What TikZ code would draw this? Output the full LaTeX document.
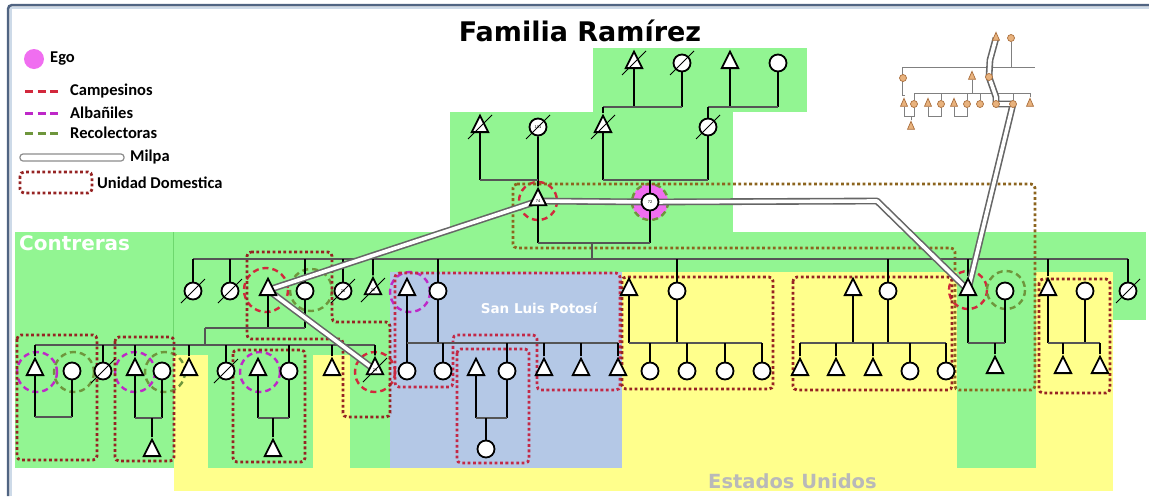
\documentclass[tikz,border=0pt]{standalone}
\usepackage{fontspec}
\setmainfont{Liberation Sans}
\newfontfamily\legfont{Carlito}
\newfontfamily\heavyfont{DejaVu Sans}
\usetikzlibrary{shapes.geometric}
\pgfdeclarelayer{bg}\pgfdeclarelayer{deco}\pgfdeclarelayer{lines}\pgfdeclarelayer{milpa}
\pgfsetlayers{bg,deco,lines,milpa,main}
\definecolor{gr}{RGB}{146,245,146}
\definecolor{ye}{RGB}{255,255,140}
\definecolor{bl}{RGB}{180,200,230}
\definecolor{udred}{RGB}{150,35,35}
\definecolor{udcrim}{RGB}{195,40,70}
\definecolor{udolive}{RGB}{140,100,30}
\definecolor{cred}{RGB}{210,40,60}
\definecolor{cpur}{RGB}{190,40,200}
\definecolor{cgrn}{RGB}{110,150,60}
\definecolor{egopink}{RGB}{240,110,240}
\definecolor{framec}{RGB}{80,100,130}
\definecolor{tanc}{RGB}{232,178,125}
\definecolor{tanline}{RGB}{170,110,60}
\definecolor{barc}{RGB}{85,85,85}
\definecolor{eugray}{RGB}{185,185,185}
\newcommand\deadmark[1]{\draw[line width=1pt] ([shift={(-12,12)}]#1.center) -- ([shift={(12,-12)}]#1.center);}
\begin{document}
\begin{tikzpicture}[x=1pt,y=-1pt,
  male/.style={isosceles triangle, isosceles triangle stretches, shape border rotate=90,
    minimum width=16.5pt, minimum height=16.5pt, inner sep=0pt, draw=black, line width=1.8pt,
    fill=white, font=\fontsize{4}{4}\selectfont},
  fem/.style={circle, minimum size=17pt, inner sep=0pt, draw=black, line width=1.8pt,
    fill=white, font=\fontsize{4}{4}\selectfont},
  smm/.style={isosceles triangle, isosceles triangle stretches, shape border rotate=90,
    minimum width=7pt, minimum height=8pt, inner sep=0pt, draw=tanline, line width=0.7pt, fill=tanc},
  smf/.style={circle, minimum size=7pt, inner sep=0pt, draw=tanline, line width=0.7pt, fill=tanc},
  kin/.style={line width=1.8pt, black},
  bar/.style={line width=1.4pt, barc},
  ibar/.style={line width=1pt, gray},
  milpa/.style={draw=black!60, line width=1.6pt, double=white, double distance=3.6pt, line join=round},
  udbox/.style={udred, line width=2.8pt, dash pattern=on 2.8pt off 2.6pt, rounded corners=4pt},
  cdash/.style={line width=2.4pt, dash pattern=on 6pt off 4pt},
  legtext/.style={anchor=west, font=\legfont\bfseries\fontsize{16.5}{16.5}\selectfont, inner sep=0pt}
]
\useasboundingbox (0,0) rectangle (1149,496);
% ---------------- background regions
\begin{pgfonlayer}{bg}
\fill[white] (0,0) rectangle (1149,496);
\fill[gr] (593,48) rectangle (807,112);
\fill[gr] (450,112) rectangle (733,233);
\fill[gr] (15,232) rectangle (1146,320);
\fill[gr] (15,232) rectangle (622,356);
\fill[gr] (15,232) rectangle (174,468);
\fill[ye] (622,272) rectangle (1113,491);
\fill[ye] (174,355) rectangle (622,491);
\fill[bl] (390,272) rectangle (622,468);
\fill[gr] (208,355) rectangle (313,468);
\fill[gr] (350,355) rectangle (390,468);
\fill[gr] (957,272) rectangle (1036,468);
\draw[color={rgb,255:red,110;green,215;blue,110}, line width=0.8pt] (173,232) -- (173,355);
\draw[color={rgb,255:red,205;green,218;blue,232}, line width=1.5pt] (11,496) -- (11,8) -- (1149,8);
\draw[framec, line width=2.5pt, rounded corners=4pt] (8,496) -- (8,5) -- (1149,5);
\end{pgfonlayer}
% ---------------- texts
\node[font=\heavyfont\bfseries\fontsize{27}{27}\selectfont] (title) at (580,31) {Familia Ramírez};
\node[anchor=west, white, font=\heavyfont\bfseries\fontsize{20}{20}\selectfont, inner sep=0pt] (contr) at (19,243) {Contreras};
\node[white, font=\heavyfont\bfseries\fontsize{13.5}{13.5}\selectfont] (slp) at (539,308) {San Luis Potosí};
\node[eugray, anchor=west, font=\heavyfont\bfseries\fontsize{19.5}{19.5}\selectfont, inner sep=0pt] (eu) at (708,481) {Estados Unidos};
% ---------------- legend
\node[circle, fill=egopink, minimum size=20pt, inner sep=0pt] (lgEgo) at (34,59) {};
\node[legtext] (lgEgoT) at (50,59) {Ego};
\coordinate (lgC1) at (25,91); \coordinate (lgC2) at (61,91);
\draw[cdash, cred, line width=3pt, dash pattern=on 8pt off 4.5pt] (lgC1) -- (lgC2);
\node[legtext] (lgCT) at (70,91) {Campesinos};
\coordinate (lgA1) at (25,113); \coordinate (lgA2) at (61,113);
\draw[cdash, cpur, line width=3pt, dash pattern=on 8pt off 4.5pt] (lgA1) -- (lgA2);
\node[legtext] (lgAT) at (70,113) {Albañiles};
\coordinate (lgR1) at (25,133); \coordinate (lgR2) at (61,133);
\draw[cdash, cgrn, line width=3pt, dash pattern=on 8pt off 4.5pt] (lgR1) -- (lgR2);
\node[legtext] (lgRT) at (70,133) {Recolectoras};
\draw[black!45, line width=1.2pt, fill=white, rounded corners=3pt] (20,154) rectangle (124,161);
\node[legtext] (lgMT) at (130,157) {Milpa};
\draw[udbox] (20,172) rectangle (92,193);
\node[legtext] (lgUT) at (97,183) {Unidad Domestica};
% ---------------- people
% gen 1
\node[male] (a1) at (634,63) {};
\node[fem]  (a2) at (682,63) {};
\node[male] (a3) at (730,63) {};
\node[fem]  (a4) at (778,63) {};
% gen 2
\node[male] (b1) at (480,127) {};
\node[fem]  (b2) at (538,127) {101};
\node[male] (b3) at (603,127) {};
\node[fem]  (b4) at (708,127) {};
% gen 3
\node[male] (f) at (538,201) {74};
\node[fem]  (e) at (650,202) {72};
% gen 4
\node[fem]  (c1) at (193,291) {};
\node[fem]  (c2) at (230,291) {};
\node[male] (c3) at (268,290) {};
\node[fem]  (c4) at (305,291) {};
\node[fem]  (c5) at (343,291) {26};
\node[male] (c6) at (373,290) {32};
\node[male] (c7) at (407,290) {};
\node[fem]  (c8) at (438,291) {};
\node[male] (c9) at (629,290) {};
\node[fem]  (c10) at (677,291) {};
\node[male] (c11) at (853,290) {};
\node[fem]  (c12) at (888,291) {};
\node[male] (c13) at (968,290) {};
\node[fem]  (c14) at (1005,291) {};
\node[male] (c15) at (1048,290) {};
\node[fem]  (c16) at (1085,291) {};
\node[fem]  (c17) at (1128,291) {};
% gen 5
\node[male] (d1) at (35,370) {};
\node[fem]  (d2) at (72,371) {};
\node[fem]  (d3) at (103,371) {};
\node[male] (d4) at (135,370) {};
\node[fem]  (d5) at (162,371) {};
\node[male] (d6) at (189,370) {};
\node[fem]  (d7) at (226,371) {};
\node[male] (d8) at (258,370) {};
\node[fem]  (d9) at (289,371) {};
\node[male] (d10) at (332,370) {};
\node[male] (d11) at (375,370) {23};
\node[fem]  (d12) at (407,371) {};
\node[fem]  (d13) at (443,371) {};
\node[male] (d14) at (476,370) {};
\node[fem]  (d15) at (507,371) {};
\node[male] (d16) at (544,370) {};
\node[male] (d17) at (581,370) {};
\node[male] (d18) at (618,370) {};
\node[fem]  (d19) at (650,371) {};
\node[fem]  (d20) at (687,371) {};
\node[fem]  (d21) at (725,371) {};
\node[fem]  (d22) at (762,371) {};
\node[male] (d23) at (800,370) {};
\node[male] (d24) at (836,370) {};
\node[male] (d25) at (873,370) {};
\node[fem]  (d26) at (910,371) {};
\node[fem]  (d27) at (946,371) {};
\node[male] (d28) at (995,368) {};
\node[male] (d29) at (1063,368) {};
\node[male] (d30) at (1100,368) {};
% gen 6
\node[male] (g1) at (152,451) {};
\node[male] (g2) at (273,451) {};
\node[fem]  (g3) at (486,449) {};
% dead marks
\foreach \n in {a1,a2,b1,b2,b3,b4,c1,c2,c5,c6,c17,d3,d7,d11} {\deadmark{\n}}
% ---------------- inset
\node[smm] (it1) at (996,38) {};
\node[smf] (ic1) at (1011,38) {};
\node[smf] (ic2) at (903,78) {};
\node[smm] (it2) at (972,77) {};
\node[smf] (ic3) at (989,77) {};
\node[smm] (it3) at (904,104) {};
\node[smf] (ic4) at (914,104) {};
\node[smm] (it4) at (928,104) {};
\node[smf] (ic5) at (941,104) {};
\node[smm] (it5) at (954,104) {};
\node[smf] (ic6) at (967,104) {};
\node[smf] (ic7) at (980,104) {};
\node[smf] (ic8) at (996,104) {};
\node[smf] (ic9) at (1013,104) {};
\node[smm] (it6) at (1030,104) {};
\node[smm] (it7) at (911,127) {};
\coordinate (ib1) at (902,67); \coordinate (ib2) at (1035,67);
\begin{pgfonlayer}{lines}
\draw[ibar] (ib1) -- (ib2);
\draw[ibar] (ic1) -- (ic1 |- ib1);
\draw[ibar] (ib1) -- (902,95) -- (905,95);
\draw[ibar] (it2) -- (it2 |- 0,93);
\draw[ibar] (ic4 |- 0,93) -- (it6 |- 0,93);
\foreach \n in {ic4,ic5,ic6,ic7,ic9,it6} {\draw[ibar] (\n) -- (\n |- 0,93);}
\foreach \m/\w in {it3/ic4,it4/ic5,it5/ic6} {\draw[ibar] (\m) -- (\m |- 0,116) -- (\w |- 0,116) -- (\w);}
\draw[ibar] (it7) -- (it7 |- 0,116);
\end{pgfonlayer}
% ---------------- kinship lines
\begin{pgfonlayer}{lines}
% gen1 -> gen2
\draw[kin] (a1) -- (a1 |- 0,107);
\draw[kin] (a2) -- (a2 |- 0,107);
\draw[bar] (b3 |- 0,107) -- (a2 |- 0,107);
\draw[kin] (b3) -- (b3 |- 0,107);
\draw[kin] (a3) -- (a3 |- 0,107);
\draw[kin] (a4) -- (a4 |- 0,107);
\draw[bar] (b4 |- 0,107) -- (a4 |- 0,107);
\draw[kin] (b4) -- (b4 |- 0,107);
% gen2 -> gen3
\draw[kin] (b1) -- (b1 |- 0,180);
\draw[kin] (b2) -- (f);
\draw[bar] (b1 |- 0,180) -- (b2 |- 0,180);
\draw[kin] (b3) -- (b3 |- 0,180);
\draw[kin] (b4) -- (b4 |- 0,180);
\draw[bar] (b3 |- 0,180) -- (b4 |- 0,180);
\draw[kin] (e) -- (e |- 0,180);
% gen3 -> gen4
\coordinate (fe) at (592,243);
\draw[kin] (f) -- (f |- fe);
\draw[kin] (e) -- (e |- fe);
\draw[bar] (f |- fe) -- (e |- fe);
\draw[bar] (fe) -- (592,259);
\draw[bar] (c1 |- 0,259) -- (c17 |- 0,259);
\foreach \n in {c1,c2,c4,c5,c6,c8,c10,c12,c13,c15,c17} {\draw[kin] (\n) -- (\n |- 0,259);}
% gen4 couples
\coordinate (j1) at (205,328);
\draw[kin] (c3) -- (c3 |- j1);
\draw[kin] (c4) -- (c4 |- j1);
\draw[bar] (j1) -- (c4 |- j1);
\draw[bar] (j1) -- (205,345);
\draw[kin] (c7) -- (d12);
\draw[kin] (c8) -- (c8 |- 0,343);
\draw[bar] (c7 |- 0,343) -- (d18 |- 0,343);
\draw[kin] (c9) -- (c9 |- 0,343);
\draw[kin] (c10) -- (c10 |- 0,343);
\draw[bar] (c9 |- 0,343) -- (d22 |- 0,343);
\draw[kin] (c11) -- (c11 |- 0,343);
\draw[kin] (c12) -- (c12 |- 0,343);
\draw[bar] (d23 |- 0,343) -- (d27 |- 0,343);
\draw[kin] (c13) -- (c13 |- 0,343);
\draw[kin] (c14) -- (c14 |- 0,343);
\draw[bar] (c13 |- 0,343) -- (c14 |- 0,343);
\draw[kin] (d28) -- (d28 |- 0,343);
\draw[kin] (c15) -- (c15 |- 0,343);
\draw[kin] (c16) -- (c16 |- 0,343);
\draw[bar] (c15 |- 0,343) -- (d30 |- 0,343);
\draw[kin] (d29) -- (d29 |- 0,343);
\draw[kin] (d30) -- (d30 |- 0,343);
% gen5
\draw[bar] (d1 |- 0,345) -- (d11 |- 0,345);
\foreach \n in {d1,d3,d4,d6,d7,d9,d10,d11} {\draw[kin] (\n) -- (\n |- 0,345);}
\foreach \n in {d13,d15,d16,d17,d18,d19,d20,d21,d22,d23,d24,d25,d26,d27} {\draw[kin] (\n) -- (\n |- 0,343);}
\draw[kin] (d1) -- (d1 |- 0,417);
\draw[kin] (d2) -- (d2 |- 0,417);
\draw[bar] (d1 |- 0,417) -- (d2 |- 0,417);
\draw[kin] (d4) -- (d4 |- 0,418);
\draw[kin] (d5) -- (d5 |- 0,418);
\draw[bar] (d4 |- 0,418) -- (d5 |- 0,418);
\draw[kin] (g1) -- (g1 |- 0,418);
\draw[kin] (d8) -- (d8 |- 0,418);
\draw[kin] (d9) -- (d9 |- 0,418);
\draw[bar] (d8 |- 0,418) -- (d9 |- 0,418);
\draw[kin] (g2) -- (g2 |- 0,418);
\draw[kin] (d14) -- (d14 |- 0,418);
\draw[kin] (d15) -- (d15 |- 0,418);
\draw[bar] (d14 |- 0,418) -- (d15 |- 0,418);
\draw[kin] (g3) -- (g3 |- 0,418);
\end{pgfonlayer}
% ---------------- households and roles
\begin{pgfonlayer}{deco}
\fill[egopink] (e) circle (18);
\draw[cdash, cgrn] (e) circle (18);
\draw[cdash, cred] (f) circle (19);
\draw[cdash, cred] (266,290) circle (22);
\draw[cdash, cred] (375,372) circle (20);
\draw[cdash, cred] (968,290) circle (19);
\draw[cdash, cgrn] (311,290) circle (21);
\draw[cdash, cgrn] (74,372) circle (20);
\draw[cdash, cgrn] (165,372) circle (20);
\draw[cdash, cgrn] (1006,290) circle (19);
\draw[cdash, cpur] (37,372) circle (20);
\draw[cdash, cpur] (135,372) circle (20);
\draw[cdash, cpur] (260,372) circle (20);
\draw[cdash, cpur] (410,292) circle (20);
% unidades domesticas
\draw[udbox, udolive] (513,184) -- (1035,184) -- (1035,390) -- (955,390) -- (955,248) -- (513,248) -- cycle;
\draw[udbox] (247,252) -- (332,252) -- (332,322) -- (390,322) -- (390,417) -- (343,417) -- (343,339) -- (247,339) -- cycle;
\draw[udbox, udcrim] (395,273) -- (620,273) -- (620,390) -- (537,390) -- (537,335) -- (453,335) -- (453,387) -- (395,387) -- cycle;
\draw[udbox, udcrim] (457,349) rectangle (529,463);
\draw[udbox] (622,277) rectangle (773,389);
\draw[udbox] (793,277) rectangle (952,390);
\draw[udbox] (1039,279) rectangle (1110,393);
\draw[udbox] (17,335) rectangle (97,460);
\draw[udbox] (115,337) rectangle (174,461);
\draw[udbox] (233,350) rectangle (305,462);
\end{pgfonlayer}
% ---------------- milpa
\begin{pgfonlayer}{milpa}
\coordinate (mk1) at (877,201);
\draw[milpa] (f.center) -- (e.center) -- (mk1) -- (c13.center);
\draw[milpa] (f.center) -- (c3.center) -- (d11.center);
\coordinate (mk2) at (990,60);
\coordinate (mk3) at (996,97);
\draw[milpa] (it1.center) -- (mk2) -- (ic3.center) -- (mk3) -- (ic8.center) -- (ic9.center) -- (c13.center);
\end{pgfonlayer}
\end{tikzpicture}
\end{document}
